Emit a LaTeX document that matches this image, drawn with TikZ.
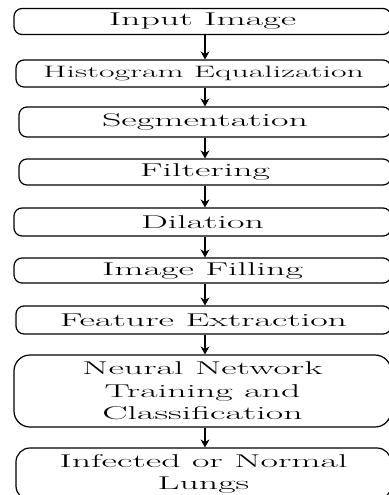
\documentclass[tikz,border=0pt]{standalone}
\usepackage{fontspec}
\setmainfont{Latin Modern Roman}[FakeStretch=2.05]
\usetikzlibrary{arrows.meta}

\begin{document}
\begin{tikzpicture}[x=1pt,y=-1pt,
		box/.style = {draw,line width=1.2pt,rounded corners=8pt,align=center,inner sep=0pt,
			font=\fontsize{18.5}{22.5}\selectfont},
		flow/.style = {line width=1.7pt,-{Stealth[length=8pt,width=9pt]}}]
		\useasboundingbox (0,0) rectangle (388,495);
		\coordinate (axis) at (205,0);
		\node [box, minimum width=377pt, minimum height=26pt] (input) at (202.5,21.5) {Input Image};
		\node [box, minimum width=375pt, minimum height=27pt, font=\fontsize{16.5}{19}\selectfont] (histeq) at (203.5,73.5) {Histogram Equalization};
		\node [box, minimum width=372pt, minimum height=30pt] (segment) at (205,122) {Segmentation};
		\node [box, minimum width=372pt, minimum height=26pt] (filter) at (205,172) {Filtering};
		\node [box, minimum width=377pt, minimum height=28pt] (dilate) at (202.5,222) {Dilation};
		\node [box, minimum width=377pt, minimum height=25pt] (fill) at (202.5,270.5) {Image Filling};
		\node [box, minimum width=375pt, minimum height=28pt] (feature) at (203.5,320) {Feature Extraction};
		\node [box, rounded corners=16pt, minimum width=377pt, minimum height=72pt] (neural) at (202.5,391) {Neural Network\\Training and\\Classification};
		\node [box, rounded corners=14pt, minimum width=375pt, minimum height=52pt] (result) at (203.5,474) {Infected or Normal\\Lungs};
		% arrows between the steps
		\draw [flow] (input.south -| axis) -- (histeq.north -| axis);
		\draw [flow] (histeq.south -| axis) -- (segment.north -| axis);
		\draw [flow] (segment.south -| axis) -- (filter.north -| axis);
		\draw [flow] (filter.south -| axis) -- (dilate.north -| axis);
		\draw [flow] (dilate.south -| axis) -- (fill.north -| axis);
		\draw [flow] (fill.south -| axis) -- (feature.north -| axis);
		\draw [flow] (feature.south -| axis) -- (neural.north -| axis);
		\draw [flow] (neural.south -| axis) -- (result.north -| axis);
	\end{tikzpicture}
\end{document}
